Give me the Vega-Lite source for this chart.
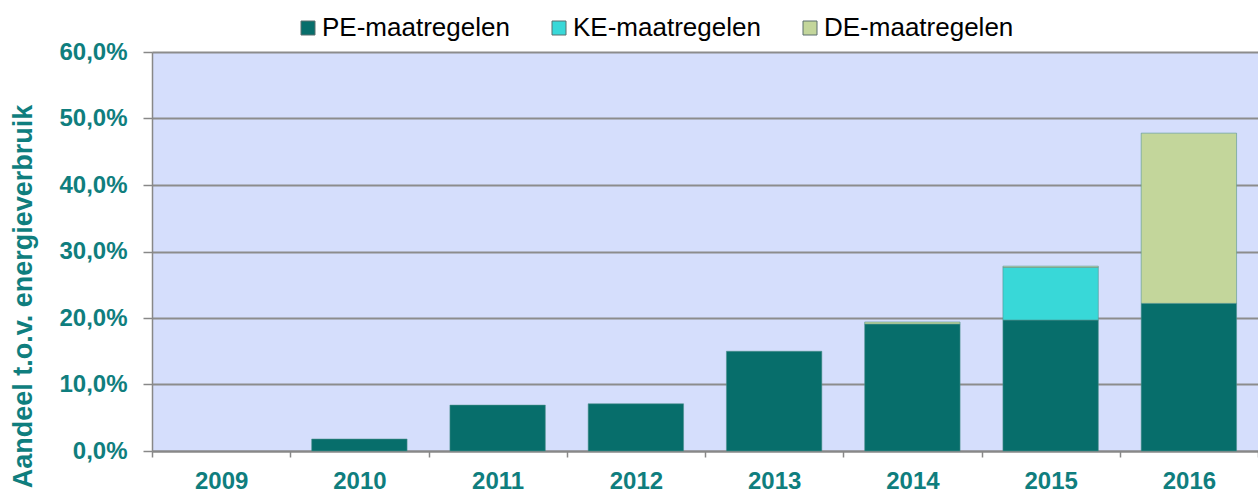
{
  "$schema": "https://vega.github.io/schema/vega-lite/v6.json",
  "width": 1106,
  "height": 399,
  "autosize": {"type": "none"},
  "padding": {"left": 152, "top": 52, "right": 0, "bottom": 44},
  "background": "#ffffff",
  "config": {
    "view": {"fill": "#d5defc", "stroke": null},
    "font": "Liberation Sans"
  },
  "data": {
    "values": [
      {"jaar": "2010", "maatregel": "PE-maatregelen", "volgorde": 1, "aandeel": 0.018},
      {"jaar": "2011", "maatregel": "PE-maatregelen", "volgorde": 1, "aandeel": 0.069},
      {"jaar": "2012", "maatregel": "PE-maatregelen", "volgorde": 1, "aandeel": 0.071},
      {"jaar": "2013", "maatregel": "PE-maatregelen", "volgorde": 1, "aandeel": 0.150},
      {"jaar": "2014", "maatregel": "PE-maatregelen", "volgorde": 1, "aandeel": 0.191},
      {"jaar": "2014", "maatregel": "DE-maatregelen", "volgorde": 3, "aandeel": 0.003},
      {"jaar": "2015", "maatregel": "PE-maatregelen", "volgorde": 1, "aandeel": 0.197},
      {"jaar": "2015", "maatregel": "KE-maatregelen", "volgorde": 2, "aandeel": 0.079},
      {"jaar": "2015", "maatregel": "DE-maatregelen", "volgorde": 3, "aandeel": 0.002},
      {"jaar": "2016", "maatregel": "PE-maatregelen", "volgorde": 1, "aandeel": 0.222},
      {"jaar": "2016", "maatregel": "DE-maatregelen", "volgorde": 3, "aandeel": 0.256}
    ]
  },
  "mark": {"type": "bar", "width": {"band": 0.69}, "stroke": "#4f8f8c", "strokeWidth": 0.8, "strokeOpacity": 0.7},
  "encoding": {
    "x": {
      "field": "jaar",
      "type": "ordinal",
      "scale": {"domain": ["2009", "2010", "2011", "2012", "2013", "2014", "2015", "2016"], "paddingInner": 0, "paddingOuter": 0},
      "axis": {
        "title": null,
        "labelAngle": 0,
        "labelFont": "Liberation Sans",
        "labelFontWeight": "bold",
        "labelFontSize": 24,
        "labelColor": "#0f7e7e",
        "labelPadding": 12,
        "tickBand": "extent",
        "tickSize": 6,
        "tickColor": "#888888",
        "tickWidth": 1.5,
        "domainColor": "#888888",
        "domainWidth": 2,
        "grid": false
      }
    },
    "y": {
      "field": "aandeel",
      "type": "quantitative",
      "stack": "zero",
      "scale": {"domain": [0, 0.6], "nice": false},
      "axis": {
        "values": [0, 0.1, 0.2, 0.3, 0.4, 0.5, 0.6],
        "labelExpr": "replace(format(datum.value, '.1%'), '.', ',')",
        "labelFont": "Liberation Sans",
        "labelFontWeight": "bold",
        "labelFontSize": 24,
        "labelColor": "#0f7e7e",
        "labelPadding": 16,
        "tickSize": 9,
        "tickColor": "#888888",
        "tickWidth": 1.5,
        "domainColor": "#888888",
        "domainWidth": 1.5,
        "gridColor": "#8c8c8c",
        "gridWidth": 2,
        "title": "Aandeel t.o.v. energieverbruik",
        "titleFont": "Liberation Sans",
        "titleFontWeight": "bold",
        "titleFontSize": 27,
        "titleColor": "#0f7e7e",
        "titleAngle": -90,
        "titleX": -129,
        "titleY": 244,
        "titleAlign": "center",
        "titleBaseline": "middle"
      }
    },
    "color": {
      "field": "maatregel",
      "type": "nominal",
      "scale": {
        "domain": ["PE-maatregelen", "KE-maatregelen", "DE-maatregelen"],
        "range": ["#076e6b", "#38d8d8", "#c3d69b"]
      },
      "legend": {
        "orient": "none",
        "legendX": 143,
        "legendY": -37,
        "direction": "horizontal",
        "columns": 3,
        "gridAlign": "all",
        "padding": 0,
        "title": null,
        "symbolType": "square",
        "symbolSize": 196,
        "symbolStrokeColor": "#5a6e6e",
        "symbolStrokeWidth": 1,
        "symbolOpacity": 1,
        "labelFont": "Liberation Sans",
        "labelFontSize": 26,
        "labelColor": "#000000",
        "labelOffset": 1,
        "labelLimit": 400,
        "columnPadding": 34
      }
    },
    "order": {"field": "volgorde", "type": "quantitative"}
  }
}
